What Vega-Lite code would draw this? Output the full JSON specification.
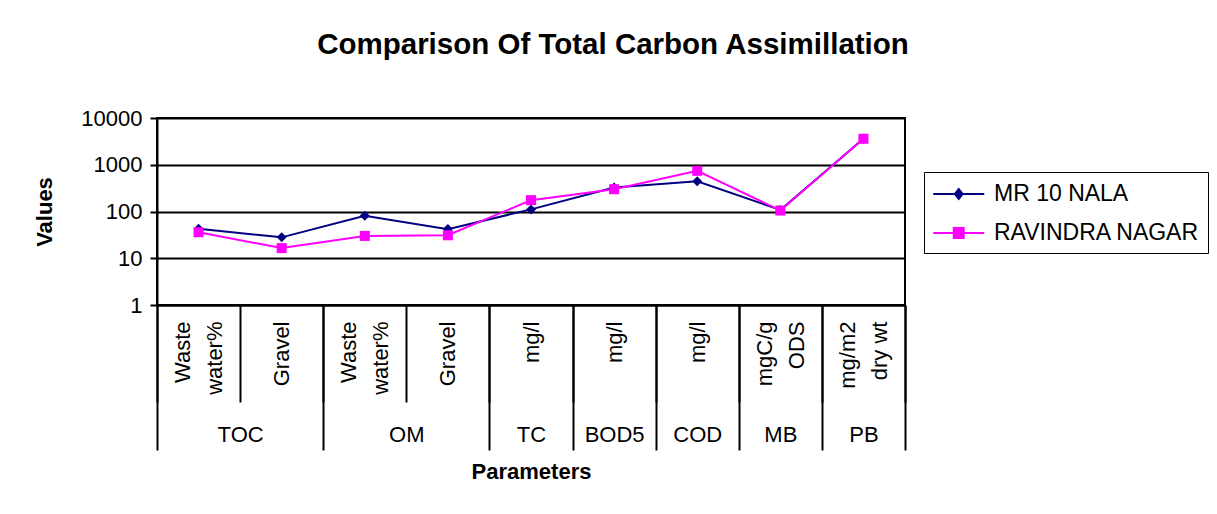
{
  "$schema": "https://vega.github.io/schema/vega-lite/v6.json",
  "autosize": {"type": "none"},
  "padding": {"left": 157, "top": 118, "right": 312, "bottom": 209},
  "width": 748,
  "height": 187,
  "background": "white",
  "title": {
    "text": "Comparison Of Total Carbon Assimillation",
    "font": "Liberation Sans",
    "fontSize": 29.5,
    "fontWeight": "bold",
    "color": "black",
    "anchor": "middle",
    "baseline": "alphabetic",
    "dx": 82,
    "offset": 24
  },
  "config": {
    "view": {"stroke": "black", "strokeWidth": 2},
    "font": "Liberation Sans"
  },
  "data": {
    "values": [
      {"idx": 0.5, "series": "MR 10 NALA", "value": 43},
      {"idx": 1.5, "series": "MR 10 NALA", "value": 28},
      {"idx": 2.5, "series": "MR 10 NALA", "value": 81},
      {"idx": 3.5, "series": "MR 10 NALA", "value": 42},
      {"idx": 4.5, "series": "MR 10 NALA", "value": 111},
      {"idx": 5.5, "series": "MR 10 NALA", "value": 327},
      {"idx": 6.5, "series": "MR 10 NALA", "value": 445},
      {"idx": 7.5, "series": "MR 10 NALA", "value": 108},
      {"idx": 8.5, "series": "MR 10 NALA", "value": 3600},
      {"idx": 0.5, "series": "RAVINDRA NAGAR", "value": 36},
      {"idx": 1.5, "series": "RAVINDRA NAGAR", "value": 16.5},
      {"idx": 2.5, "series": "RAVINDRA NAGAR", "value": 30},
      {"idx": 3.5, "series": "RAVINDRA NAGAR", "value": 31},
      {"idx": 4.5, "series": "RAVINDRA NAGAR", "value": 175},
      {"idx": 5.5, "series": "RAVINDRA NAGAR", "value": 300},
      {"idx": 6.5, "series": "RAVINDRA NAGAR", "value": 741},
      {"idx": 7.5, "series": "RAVINDRA NAGAR", "value": 105},
      {"idx": 8.5, "series": "RAVINDRA NAGAR", "value": 3600}
    ]
  },
  "layer": [
    {
      "mark": {"type": "point", "filled": false, "opacity": 0, "strokeWidth": 2},
      "encoding": {
        "x": {"field": "idx", "type": "quantitative", "scale": {"domain": [0, 9], "nice": false, "zero": false}, "axis": null},
        "y": {
          "field": "value", "type": "quantitative",
          "scale": {"type": "log", "domain": [1, 10000], "nice": false},
          "axis": {
            "values": [1, 10, 100, 1000, 10000],
            "format": "d",
            "grid": true,
            "gridColor": "black",
            "gridWidth": 2,
            "domainColor": "black",
            "domainWidth": 2,
            "tickColor": "black",
            "tickSize": 7,
            "tickWidth": 2,
            "labelFontSize": 22,
            "labelPadding": 8,
            "labelColor": "black",
            "title": "Values",
            "titleFontSize": 22,
            "titleFontWeight": "bold",
            "titleColor": "black",
            "titlePadding": 24
          }
        },
        "color": {
          "field": "series", "type": "nominal",
          "scale": {"domain": ["MR 10 NALA", "RAVINDRA NAGAR"], "range": ["#000080", "#FF00FF"]},
          "legend": {
            "orient": "none",
            "legendX": 767,
            "legendY": 54,
            "title": null,
            "strokeColor": "black",
            "fillColor": "white",
            "padding": 8,
            "labelFontSize": 23,
            "labelColor": "black",
            "labelLimit": 400,
            "labelOffset": 34,
            "rowPadding": 13,
            "symbolSize": 650,
            "symbolStrokeWidth": 2,
            "symbolOpacity": 1
          }
        },
        "shape": {
          "field": "series", "type": "nominal",
          "scale": {
            "domain": ["MR 10 NALA", "RAVINDRA NAGAR"],
            "range": [
              "M-1,0H3M1,-0.39L1.31,0L1,0.39L0.69,0ZM1,-0.21L1.17,0L1,0.21L0.83,0ZM1,-0.06L1.05,0L1,0.06L0.95,0Z",
              "M-1,0H3M0.61,-0.39H1.39V0.39H0.61ZM0.8,-0.2H1.2V0.2H0.8ZM0.96,-0.04H1.04V0.04H0.96Z"
            ]
          },
          "legend": {
            "orient": "none",
            "legendX": 767,
            "legendY": 54,
            "title": null,
            "strokeColor": "black",
            "fillColor": "white",
            "padding": 8,
            "labelFontSize": 23,
            "labelColor": "black",
            "labelLimit": 400,
            "labelOffset": 34,
            "rowPadding": 13,
            "symbolSize": 650,
            "symbolStrokeWidth": 2,
            "symbolOpacity": 1
          }
        }
      }
    },
    {
      "mark": {"type": "line", "strokeWidth": 2},
      "encoding": {
        "x": {
          "field": "idx", "type": "quantitative",
          "axis": {
            "orient": "bottom",
            "values": [0.5, 1.5, 2.5, 3.5, 4.5, 5.5, 6.5, 7.5, 8.5],
            "labelExpr": "split(['Waste|water%','Gravel','Waste|water%','Gravel','mg/l','mg/l','mg/l','mgC/g|ODS','mg/m2|dry wt'][floor(datum.value)], '|')",
            "labelAngle": 270,
            "labelAlign": "right",
            "labelBaseline": "middle",
            "labelFontSize": 22,
            "labelLineHeight": 32,
            "labelPadding": 16,
            "labelOffset": {"condition": {"test": "indexof([0.5, 2.5, 7.5, 8.5], datum.value) >= 0", "value": -16}, "value": 0},
            "labelColor": "black",
            "labelOverlap": false,
            "labelFlush": false,
            "labelBound": false,
            "ticks": false,
            "domain": false,
            "grid": false,
            "title": null
          }
        },
        "y": {"field": "value", "type": "quantitative"},
        "color": {"field": "series", "type": "nominal"}
      }
    },
    {
      "transform": [{"filter": "datum.series === 'MR 10 NALA'"}],
      "mark": {"type": "point", "filled": true, "opacity": 1, "size": 100, "shape": "diamond"},
      "encoding": {
        "x": {"field": "idx", "type": "quantitative", "axis": null},
        "y": {"field": "value", "type": "quantitative"},
        "color": {"field": "series", "type": "nominal"}
      }
    },
    {
      "transform": [{"filter": "datum.series === 'RAVINDRA NAGAR'"}],
      "mark": {"type": "point", "filled": true, "opacity": 1, "size": 100, "shape": "square"},
      "encoding": {
        "x": {"field": "idx", "type": "quantitative", "axis": null},
        "y": {"field": "value", "type": "quantitative"},
        "color": {"field": "series", "type": "nominal"}
      }
    },
    {
      "mark": {"type": "point", "opacity": 0},
      "encoding": {
        "x": {
          "field": "idx", "type": "quantitative",
          "axis": {
            "orient": "bottom",
            "values": [0, 1, 2, 3, 4, 5, 6, 7, 8, 9],
            "labels": false,
            "tickSize": 97,
            "tickWidth": 2,
            "tickColor": "black",
            "domain": true,
            "domainColor": "black",
            "domainWidth": 2,
            "grid": false,
            "title": null
          }
        }
      }
    },
    {
      "mark": {"type": "point", "opacity": 0},
      "encoding": {
        "x": {
          "field": "idx", "type": "quantitative",
          "axis": {
            "orient": "bottom",
            "values": [0, 2, 4, 5, 6, 7, 8, 9],
            "labels": false,
            "tickSize": 145,
            "tickWidth": 2,
            "tickColor": "black",
            "domain": false,
            "grid": false,
            "title": null
          }
        }
      }
    },
    {
      "mark": {"type": "point", "opacity": 0},
      "encoding": {
        "x": {
          "field": "idx", "type": "quantitative",
          "axis": {
            "orient": "bottom",
            "values": [1, 3, 4.5, 5.5, 6.5, 7.5, 8.5],
            "labelExpr": "['TOC','OM','TC','BOD5','COD','MB','PB'][indexof([1,3,4.5,5.5,6.5,7.5,8.5], datum.value)]",
            "labelFontSize": 22,
            "labelColor": "black",
            "labelPadding": 119,
            "labelOverlap": false,
            "labelFlush": false,
            "labelBound": false,
            "ticks": false,
            "domain": false,
            "grid": false,
            "title": "Parameters",
            "titleFontSize": 22,
            "titleFontWeight": "bold",
            "titleColor": "black",
            "titlePadding": 16
          }
        }
      }
    }
  ],
  "resolve": {"axis": {"x": "independent"}}
}
